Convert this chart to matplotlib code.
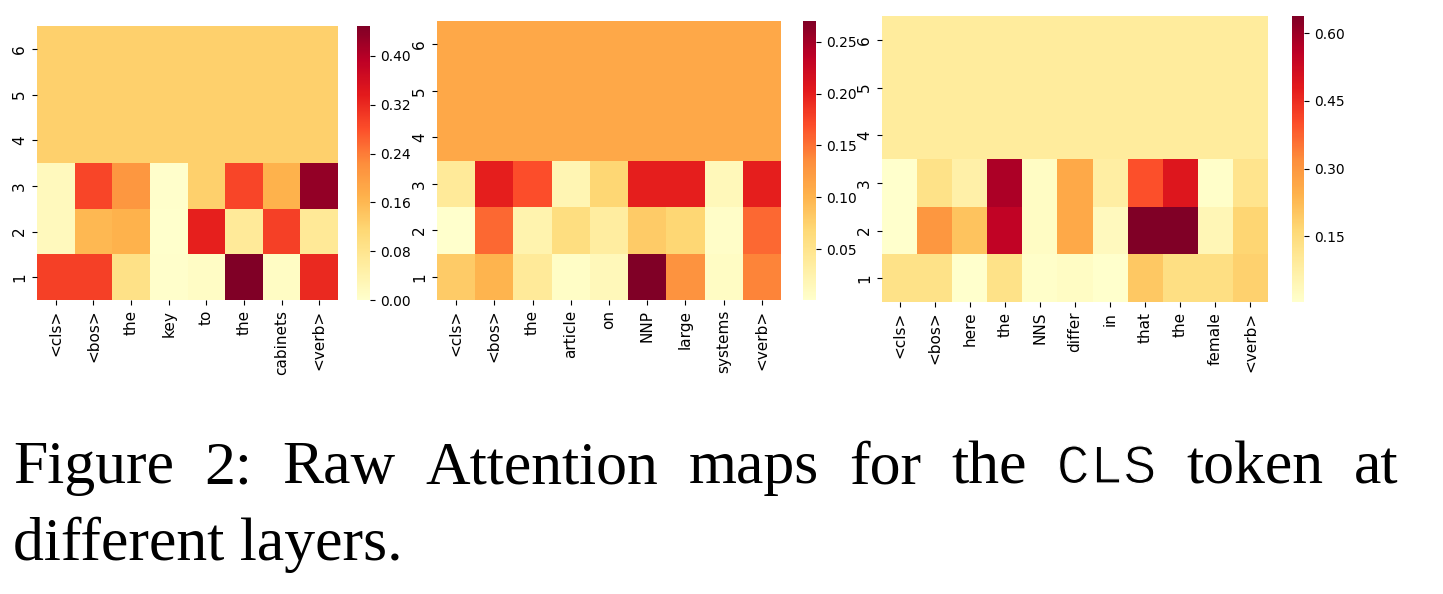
import numpy as np
import matplotlib
matplotlib.use("Agg")
import matplotlib.pyplot as plt
import matplotlib.patheffects as pe
import seaborn as sns

layers = ['1', '2', '3', '4', '5', '6']

tokens1 = ['<cls>', '<bos>', 'the', 'key', 'to', 'the', 'cabinets', '<verb>']
attn1 = [
    [0.295, 0.295, 0.09, 0.003, 0.01, 0.449, 0.012, 0.32],
    [0.02, 0.16, 0.17, 0.0, 0.33, 0.065, 0.295, 0.07],
    [0.02, 0.29, 0.21, 0.002, 0.125, 0.29, 0.17, 0.43],
    [0.125, 0.125, 0.125, 0.125, 0.125, 0.125, 0.125, 0.125],
    [0.125, 0.125, 0.125, 0.125, 0.125, 0.125, 0.125, 0.125],
    [0.125, 0.125, 0.125, 0.125, 0.125, 0.125, 0.125, 0.125],
]
cbar_ticks1 = [0.00, 0.08, 0.16, 0.24, 0.32, 0.40]

tokens2 = ['<cls>', '<bos>', 'the', 'article', 'on', 'NNP', 'large', 'systems', '<verb>']
attn2 = [
    [0.08, 0.10, 0.04, 0.006, 0.015, 0.27, 0.13, 0.008, 0.14],
    [0.001, 0.155, 0.025, 0.06, 0.035, 0.08, 0.07, 0.005, 0.155],
    [0.04, 0.20, 0.17, 0.02, 0.07, 0.20, 0.20, 0.015, 0.20],
    [0.111, 0.111, 0.111, 0.111, 0.111, 0.111, 0.111, 0.111, 0.111],
    [0.111, 0.111, 0.111, 0.111, 0.111, 0.111, 0.111, 0.111, 0.111],
    [0.111, 0.111, 0.111, 0.111, 0.111, 0.111, 0.111, 0.111, 0.111],
]
cbar_ticks2 = [0.05, 0.10, 0.15, 0.20, 0.25]

tokens3 = ['<cls>', '<bos>', 'here', 'the', 'NNS', 'differ', 'in', 'that', 'the', 'female', '<verb>']
attn3 = [
    [0.13, 0.13, 0.005, 0.13, 0.01, 0.02, 0.005, 0.20, 0.14, 0.14, 0.18],
    [0.005, 0.30, 0.21, 0.55, 0.02, 0.26, 0.03, 0.638, 0.638, 0.045, 0.17],
    [0.005, 0.13, 0.07, 0.58, 0.02, 0.26, 0.08, 0.40, 0.49, 0.01, 0.12],
    [0.0909] * 11,
    [0.0909] * 11,
    [0.0909] * 11,
]
cbar_ticks3 = [0.15, 0.30, 0.45, 0.60]

W, H = 1443, 594
fig = plt.figure(figsize=(W / 100, H / 100), dpi=100)


def box(x0, y0, x1, y1):
    # pixel box (top-left origin) -> figure fractions
    return [x0 / W, 1 - y1 / H, (x1 - x0) / W, (y1 - y0) / H]


panels = [
    (attn1, tokens1, cbar_ticks1, box(37, 26, 338, 300), box(357, 26, 370, 300)),
    (attn2, tokens2, cbar_ticks2, box(437, 21, 781, 300), box(803, 21, 816, 300)),
    (attn3, tokens3, cbar_ticks3, box(882, 16, 1268, 302), box(1292, 16, 1304, 302)),
]

for data, toks, cticks, hpos, cpos in panels:
    ax = fig.add_axes(hpos)
    cax = fig.add_axes(cpos)
    sns.heatmap(np.array(data), ax=ax, cbar_ax=cax, cmap='YlOrRd',
                xticklabels=toks, yticklabels=layers,
                cbar_kws={'ticks': cticks})
    ax.invert_yaxis()
    ax.set_xticklabels(toks, rotation=90, fontsize=11)
    ax.set_yticklabels(layers, rotation=90, fontsize=11, va='center')
    cax.tick_params(labelsize=10)
    cax.set_yticklabels(['%.2f' % t for t in cticks])

# caption, justified on the first line like the paper
cap_size = 44.5
line1 = ['Figure', '2:', 'Raw', 'Attention', 'maps', 'for', 'the', 'CLS', 'token', 'at']
left_px, right_px = 13, 1398
base1 = 1 - 483 / H
fig.canvas.draw()
r = fig.canvas.get_renderer()
words = []
for wtxt in line1:
    if wtxt == 'CLS':
        # typewriter word, thinned a little to look like Courier
        t = fig.text(0, base1, wtxt, fontsize=40, family='Liberation Mono', va='baseline',
                     path_effects=[pe.Normal(), pe.Stroke(linewidth=0.9, foreground='white')])
    else:
        t = fig.text(0, base1, wtxt, fontsize=cap_size, family='Liberation Serif', va='baseline')
    words.append(t)
widths = [t.get_window_extent(r).width for t in words]
gap = (right_px - left_px - sum(widths)) / (len(words) - 1)
x = left_px
for t, wd in zip(words, widths):
    t.set_x(x / W)
    x += wd + gap

fig.text(left_px / W, 1 - 560 / H, 'different layers.', fontsize=cap_size,
         family='Liberation Serif', va='baseline')

fig.savefig('out.png', dpi=100)
